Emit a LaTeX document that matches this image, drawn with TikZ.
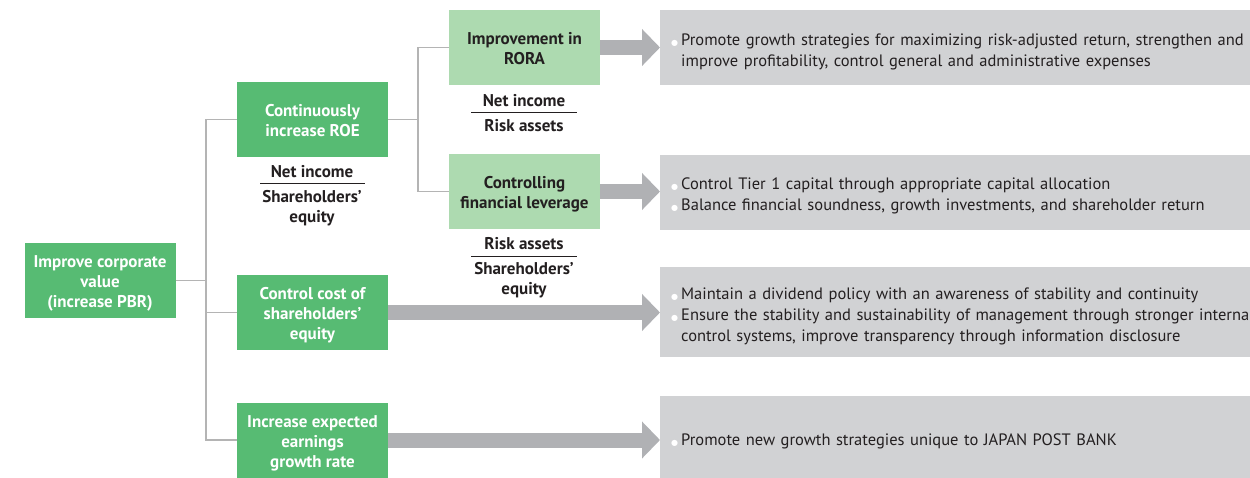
\documentclass[tikz,border=0pt]{standalone}
\usepackage{fontspec}
\setmainfont{PT Sans}
\newfontfamily\symfont{DejaVu Sans}
\usetikzlibrary{arrows.meta}
\definecolor{dgreen}{HTML}{57BB73}
\definecolor{lgreen}{HTML}{ADDAB0}
\definecolor{boxgray}{HTML}{D1D2D4}
\definecolor{arrgray}{HTML}{B0B1B4}
\definecolor{lngray}{HTML}{B4B4B4}
\definecolor{ink}{HTML}{231F20}
% white bullet dot
\newcommand{\bul}{\textcolor{white}{\symfont\fontsize{8}{8}\selectfont ●}}
% centred box text, set a little lower than its box centre
\newcommand{\boxtext}[1]{\raisebox{-3pt}[\height][\depth]{\begin{tabular}{@{}c@{}}#1\end{tabular}}}
% bulleted list for the measure panels
\newcommand{\measures}[1]{\raisebox{-4pt}[\height][\depth]{\begin{tabular}{@{}l@{\hspace{3pt}}l@{}}#1\end{tabular}}}
\begin{document}
\begin{tikzpicture}[x=1pt,y=-1pt,
  every node/.style={inner sep=0pt, font=\fontsize{16.5}{21}\selectfont, text=ink},
  heavy/.style={font=\fontsize{17}{20}\selectfont\bfseries},
  dbox/.style={heavy, fill=dgreen, text=white, minimum width=151, minimum height=75},
  lbox/.style={heavy, fill=lgreen, minimum width=151, minimum height=75},
  gbox/.style={fill=boxgray, anchor=west, minimum width=590, align=left, text width=568, inner xsep=11},
  conn/.style={draw=lngray, line width=1.2pt},
  bigarrow/.style={draw=arrgray, line width=15pt, -{Triangle[length=18pt,width=36pt]}},
  frac/.style={heavy, align=center, anchor=base},
  fracrule/.style={draw=ink, line width=0.8pt}]
\useasboundingbox (0,0) rectangle (1250,477);
\clip (0,0) rectangle (1250,477);

% green boxes
\node[dbox] (corp) at (100,280.5) {\boxtext{Improve corporate\\value\\(increase PBR)}};
\node[dbox] (roe) at (312.5,119.5) {\boxtext{Continuously\\increase ROE}};
\node[dbox] (cost) at (312.5,312.5) {\boxtext{Control cost of\\shareholders'\\equity}};
\node[dbox] (growth) at (312.5,440) {\boxtext{Increase expected\\earnings\\growth rate}};
\node[lbox] (rora) at (524.5,47.5) {\boxtext{Improvement in\\RORA}};
\node[lbox] (lev) at (524.5,191.5) {\boxtext{Controlling\\financial leverage}};

% gray boxes with measures
\node[gbox, minimum height=75] (g1) at (660,47.5) {\measures{%
  \bul & Promote growth strategies for maximizing risk-adjusted return, strengthen and\\
       & improve profitability, control general and administrative expenses}};
\node[gbox, minimum height=75] (g2) at (660,192) {\measures{%
  \bul & Control Tier 1 capital through appropriate capital allocation\\
  \bul & Balance financial soundness, growth investments, and shareholder return}};
\node[gbox, minimum height=90] (g3) at (660,312) {\measures{%
  \bul & Maintain a dividend policy with an awareness of stability and continuity\\
  \bul & Ensure the stability and sustainability of management through stronger internal\\
       & control systems, improve transparency through information disclosure}};
\node[gbox, minimum height=82] (g4) at (660,437) {\measures{%
  \bul & Promote new growth strategies unique to JAPAN POST BANK}};

% tree connectors
\coordinate (tx) at (206,0);
\coordinate (ty) at (418,0);
\draw[conn] (corp.east) -- (corp.east -| tx);
\draw[conn] (roe.west) -- (roe.west -| tx) -- (growth.west -| tx) -- (growth.west);
\draw[conn] (cost.west) -- (cost.west -| tx);
\draw[conn] (roe.east) -- (roe.east -| ty);
\draw[conn] (rora.west) -- (rora.west -| ty) -- (lev.west -| ty) -- (lev.west);

% arrows to measures
\draw[bigarrow] (rora.east) -- (rora.east -| g1.west);
\draw[bigarrow] (lev.east) -- (lev.east -| g2.west);
\draw[bigarrow] (cost.east) -- (cost.east -| g3.west);
\draw[bigarrow] (growth.east) -- (growth.east -| g4.west);

% ratio definitions (base anchor = baseline of the last line)
\node[frac] (roen) at (312,177) {Net income};
\node[frac] (roed) at (312,222) {Shareholders'\\equity};
\coordinate (roel) at (260,183);
\coordinate (roer) at (365,183);
\draw[fracrule] (roel) -- (roer);
\node[frac] (roran) at (524,106) {Net income};
\node[frac] (rorad) at (524,131) {Risk assets};
\coordinate (roral) at (471,112);
\coordinate (rorar) at (577,112);
\draw[fracrule] (roral) -- (rorar);
\node[frac] (levn) at (524,249) {Risk assets};
\node[frac] (levd) at (524,294) {Shareholders'\\equity};
\coordinate (levl) at (471,256);
\coordinate (levr) at (577,256);
\draw[fracrule] (levl) -- (levr);
\end{tikzpicture}
\end{document}
